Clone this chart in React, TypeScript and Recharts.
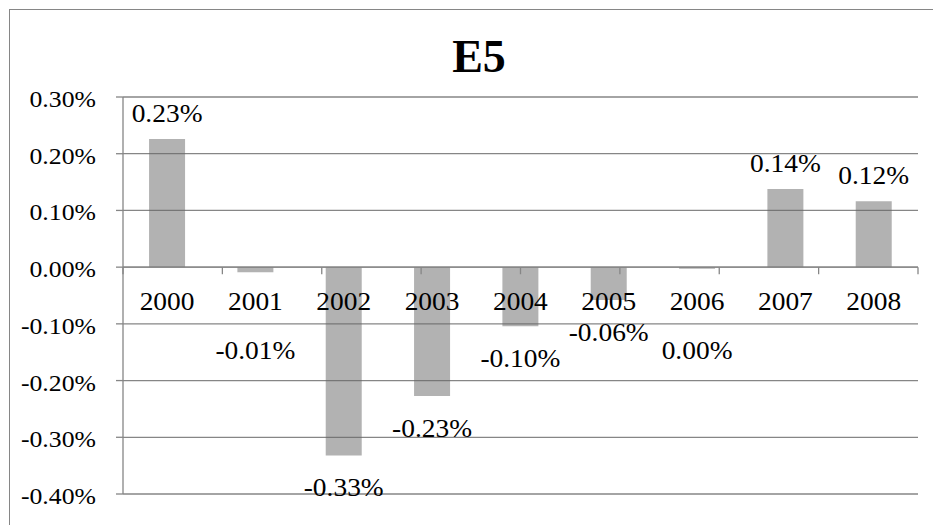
import React from "react";
import {
  BarChart,
  Bar,
  XAxis,
  YAxis,
  CartesianGrid,
  ReferenceLine,
  LabelList,
} from "recharts";

const years = ["2000", "2001", "2002", "2003", "2004", "2005", "2006", "2007", "2008"];
const e5Values = [0.226, -0.009, -0.332, -0.227, -0.104, -0.058, -0.003, 0.138, 0.116];
const yTicks = [-0.4, -0.3, -0.2, -0.1, 0, 0.1, 0.2, 0.3];
// category boundaries on the hidden numeric axis, used for the small tick marks at zero
const boundaries = [0, 1, 2, 3, 4, 5, 6, 7, 8, 9];

const data = years.map((year, i) => ({ year, value: e5Values[i] }));

const FONT = "'Liberation Serif', 'Times New Roman', serif";
const LINE = "#868686";
const STRETCH = 1.12;

const pct = (v: number) => {
  const s = v.toFixed(2);
  return (s === "-0.00" ? "0.00" : s) + "%";
};

// text drawn slightly wider than the font's natural width
const WideText = ({ x, y, anchor, size, children }: any) => (
  <text
    transform={`translate(${x},${y}) scale(${STRETCH},1)`}
    textAnchor={anchor}
    fontSize={size}
    fontFamily={FONT}
    fill="#000"
  >
    {children}
  </text>
);

const YTick = (props: any) => {
  const { x, y, payload } = props;
  return (
    <WideText x={x} y={y + 10} anchor="end" size={23}>
      {pct(payload.value)}
    </WideText>
  );
};

const edges = (props: any) => {
  const vb = props.viewBox ?? props;
  const x = Number(vb.x);
  const y = Number(vb.y);
  const w = Number(vb.width);
  const h = Number(vb.height);
  return { cx: x + w / 2, hi: Math.min(y, y + h), lo: Math.max(y, y + h) };
};

const ValueLabel = (props: any) => {
  const v = Number(props.value);
  const { cx, hi, lo } = edges(props);
  let center: number;
  if (v >= 0) {
    center = hi - 25;
  } else {
    // very short bars would collide with the year labels, so push them lower
    center = Math.abs(v) < 0.02 ? hi + 84 : lo + 33;
  }
  return (
    <WideText x={cx} y={center + 8} anchor="middle" size={24.5}>
      {pct(v)}
    </WideText>
  );
};

const YearLabel = (props: any) => {
  const { cx, hi, lo } = edges(props);
  const val = e5Values[years.indexOf(String(props.value))] ?? 0;
  const zero = val >= 0 ? lo : hi;
  return (
    <WideText x={cx} y={zero + 43} anchor="middle" size={24.5}>
      {String(props.value)}
    </WideText>
  );
};

export default function App() {
  return (
    <div
      style={{
        position: "fixed",
        left: 0,
        top: 0,
        width: 933,
        height: 525,
        overflow: "hidden",
        background: "#fff",
      }}
    >
      <div
        style={{
          position: "absolute",
          left: 9,
          top: 9,
          width: 960,
          height: 560,
          border: `1.5px solid ${LINE}`,
          boxSizing: "border-box",
        }}
      />
      <div
        style={{
          position: "absolute",
          left: 0,
          top: 34,
          width: 958,
          textAlign: "center",
          fontFamily: FONT,
          fontWeight: "bold",
          fontSize: 46,
          lineHeight: "46px",
          color: "#000",
        }}
      >
        E5
      </div>
      <div style={{ position: "absolute", left: 0, top: 0 }}>
        <BarChart
          width={933}
          height={525}
          data={data}
          margin={{ top: 97, right: 15, bottom: 31, left: 0 }}
          barCategoryGap="29.5%"
        >
          <CartesianGrid vertical={false} stroke={LINE} strokeWidth={1.3} />
          <XAxis dataKey="year" hide />
          <XAxis xAxisId="n" type="number" domain={[0, 9]} hide />
          <YAxis
            width={123}
            domain={[-0.4, 0.3]}
            ticks={yTicks}
            interval={0}
            axisLine={{ stroke: LINE, strokeWidth: 1.3 }}
            tickLine={{ stroke: LINE, strokeWidth: 1.3 }}
            tickSize={7}
            tickMargin={20}
            tick={<YTick />}
          />
          <Bar dataKey="value" fill="#666666" fillOpacity={0.5} isAnimationActive={false}>
            <LabelList dataKey="value" content={<ValueLabel />} />
            <LabelList dataKey="year" content={<YearLabel />} />
          </Bar>
          <ReferenceLine y={0} stroke={LINE} strokeWidth={1.3} />
          {boundaries.map((b) => (
            <ReferenceLine
              key={b}
              xAxisId="n"
              segment={[
                { x: b, y: 0 },
                { x: b, y: -0.0125 },
              ]}
              stroke={LINE}
              strokeWidth={1.3}
              ifOverflow="visible"
            />
          ))}
        </BarChart>
      </div>
    </div>
  );
}
